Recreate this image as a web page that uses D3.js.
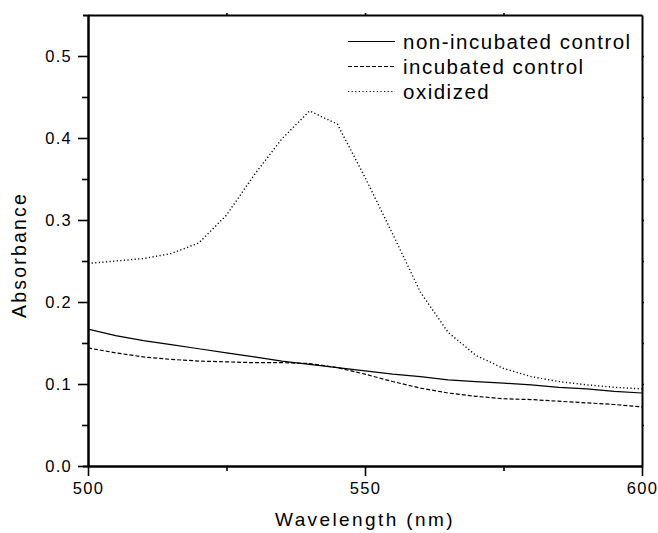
<!DOCTYPE html>
<html>
<head>
<meta charset="utf-8">
<script src="https://cdn.jsdelivr.net/npm/d3@7"></script>
<style>
  body { margin: 0; background: white; }
  svg { display: block; font-family: "Liberation Sans", Arial, sans-serif; }
</style>
</head>
<body>
<svg width="658" height="533"></svg>
<script>
// wavelengths every 5 nm
const wavelengths = [500, 505, 510, 515, 520, 525, 530, 535, 540, 545, 550,
                     555, 560, 565, 570, 575, 580, 585, 590, 595, 600];

const nonIncubated = [0.167, 0.159, 0.153, 0.148, 0.143, 0.138, 0.133, 0.128, 0.124, 0.120, 0.116,
                      0.112, 0.109, 0.105, 0.103, 0.101, 0.099, 0.096, 0.094, 0.091, 0.089];

const incubated = [0.144, 0.138, 0.133, 0.130, 0.128, 0.127, 0.126, 0.126, 0.125, 0.120, 0.112,
                   0.103, 0.095, 0.089, 0.085, 0.082, 0.081, 0.079, 0.077, 0.075, 0.072];

const oxidized = [0.247, 0.250, 0.253, 0.259, 0.272, 0.306, 0.355, 0.399, 0.433, 0.417, 0.352,
                  0.283, 0.212, 0.163, 0.135, 0.119, 0.109, 0.103, 0.099, 0.096, 0.094];

const seriesNames = ["non-incubated control", "incubated control", "oxidized"];
const yTicks = [0, 0.1, 0.2, 0.3, 0.4, 0.5];
const yMinorTicks = [0.05, 0.15, 0.25, 0.35, 0.45];
const xTicks = [500, 550, 600];
const xMinorTicks = [525, 575];

const margin = {top: 15, right: 16, bottom: 67, left: 88},
    width = 658 - margin.left - margin.right,
    height = 533 - margin.top - margin.bottom;

const svg = d3.select("svg")
    .append("g")
    .attr("transform", `translate(${margin.left},${margin.top})`);

const x = d3.scaleLinear().domain([500, 600]).range([0, width]);
const y = d3.scaleLinear().domain([0, 0.55]).range([height, 0]);

const dashes = ["none", "4,2", "1.2,2.4"];
const allSeries = [nonIncubated, incubated, oxidized];

const line = d3.line()
    .x(d => x(d.wl))
    .y(d => y(d.v));

allSeries.forEach((vals, i) => {
    svg.append("path")
        .datum(wavelengths.map((wl, j) => ({wl: wl, v: vals[j]})))
        .attr("fill", "none")
        .attr("stroke", "#000")
        .attr("stroke-width", i == 2 ? 1.4 : 1.2)
        .attr("stroke-dasharray", dashes[i])
        .attr("d", line);
});

// bottom axis
svg.append("g")
    .attr("transform", `translate(0,${height})`)
    .call(d3.axisBottom(x).tickValues(xTicks).tickSize(10).tickSizeOuter(0).tickPadding(6).tickFormat(d3.format("d")));
svg.append("g")
    .attr("transform", `translate(0,${height})`)
    .call(d3.axisBottom(x).tickValues(xMinorTicks).tickSize(5).tickSizeOuter(0).tickFormat(""));

// left axis
svg.append("g")
    .call(d3.axisLeft(y).tickValues(yTicks).tickSize(10).tickSizeOuter(5).tickPadding(6).tickFormat(d3.format(".1f")));
svg.append("g")
    .call(d3.axisLeft(y).tickValues(yMinorTicks).tickSize(6).tickSizeOuter(0).tickFormat(""));

// top and right with small outward ticks
svg.append("g")
    .call(d3.axisTop(x).tickValues([525, 550, 575]).tickSize(2).tickSizeOuter(0).tickFormat(""));
svg.append("g")
    .attr("transform", `translate(${width},0)`)
    .call(d3.axisRight(y).tickValues(d3.range(0.05, 0.55, 0.05)).tickSize(2).tickSizeOuter(0).tickFormat(""));

svg.selectAll(".domain").attr("stroke-width", 2);
svg.selectAll(".tick line").attr("stroke-width", 1.6);

svg.selectAll(".tick text")
    .style("font-size", "16.5px")
    .style("letter-spacing", "1.3px")
    .attr("fill", "#000");

// axis titles
svg.append("text")
    .attr("x", width / 2)
    .attr("y", height + 60)
    .attr("text-anchor", "middle")
    .style("font-size", "19px")
    .style("letter-spacing", "2.4px")
    .text("Wavelength (nm)");

svg.append("text")
    .attr("transform", `translate(${26 - margin.left},${255 - margin.top}) rotate(-90)`)
    .attr("text-anchor", "middle")
    .style("font-size", "19.5px")
    .style("letter-spacing", "2.2px")
    .text("Absorbance");

// legend
const legend = svg.append("g")
    .attr("transform", `translate(${348 - margin.left},${41.5 - margin.top})`);

seriesNames.forEach((name, i) => {
    const row = legend.append("g").attr("transform", `translate(0,${i * 25})`);
    row.append("line")
        .attr("x1", 0).attr("x2", 47)
        .attr("y1", 0).attr("y2", 0)
        .attr("stroke", "#000")
        .attr("stroke-width", 1.2)
        .attr("stroke-dasharray", dashes[i]);
    row.append("text")
        .attr("x", 55)
        .attr("y", 0)
        .attr("dy", "0.35em")
        .style("font-size", "20.5px")
        .style("letter-spacing", "1.5px")
        .text(name);
});
</script>
</body>
</html>
